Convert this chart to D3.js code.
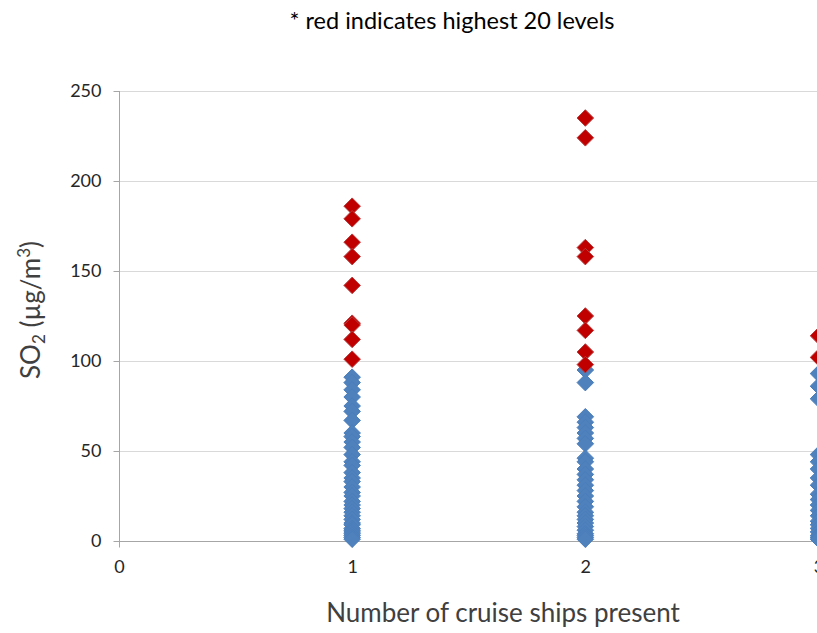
<!DOCTYPE html>
<html>
<head>
<meta charset="utf-8">
<script src="https://cdn.jsdelivr.net/npm/d3@7"></script>
<style>
  html, body { margin: 0; padding: 0; background: #fff; }
  svg { display: block; }
</style>
</head>
<body>
<script>
// ---- data ----
const title = "* red indicates highest 20 levels";
const xTicks = [0, 1, 2, 3];
const yTicks = [0, 50, 100, 150, 200, 250];

const blueShips1 = [91, 88, 84, 80, 75, 72, 67, 60, 58, 55, 52, 48, 44, 42, 38, 35, 33, 30, 27, 25, 22, 20, 18, 16, 14, 12, 10, 9, 7, 6, 5, 4, 3, 2, 1];
const blueShips2 = [95, 88, 69, 66, 63, 60, 57, 54, 46, 44, 40, 37, 34, 31, 28, 25, 22, 19, 16, 14, 12, 10, 8, 6, 4, 3, 2, 1];
const blueShips3 = [93, 86, 79, 48, 44, 40, 35, 31, 26, 23, 20, 17, 14, 11, 9, 7, 5, 3, 2, 1];

const redShips1 = [186, 179, 166, 158, 142, 121, 120, 112, 101];
const redShips2 = [235, 224, 163, 158, 125, 117, 105, 98];
const redShips3 = [114, 102];

const blueSeries = [
  ...blueShips1.map(v => ({ x: 1, y: v })),
  ...blueShips2.map(v => ({ x: 2, y: v })),
  ...blueShips3.map(v => ({ x: 3, y: v }))
];
const redSeries = [
  ...redShips1.map(v => ({ x: 1, y: v })),
  ...redShips2.map(v => ({ x: 2, y: v })),
  ...redShips3.map(v => ({ x: 3, y: v }))
];

// ---- layout ----
const W = 817, H = 633;
const svg = d3.select("body").append("svg").attr("width", W).attr("height", H);

const x = d3.scaleLinear().domain([0, 3]).range([119, 818.5]);
const y = d3.scaleLinear().domain([0, 250]).range([541, 91]);

const font = "Lato, 'Open Sans', sans-serif";

// gridlines
svg.append("g").selectAll("line").data(yTicks.filter(d => d > 0)).join("line")
  .attr("x1", x(0)).attr("x2", W)
  .attr("y1", d => y(d) + 0.5).attr("y2", d => y(d) + 0.5)
  .attr("stroke", "#D9D9D9").attr("stroke-width", 1);

// y axis
const yAxis = d3.axisLeft(y).tickValues(yTicks).tickFormat(d3.format("d")).tickSize(6).tickPadding(12);
const gy = svg.append("g").attr("transform", `translate(${x(0) + 0.5},0)`).call(yAxis);
gy.select(".domain").remove();
gy.append("line").attr("x1", 0).attr("x2", 0).attr("y1", y(250)).attr("y2", y(0) + 6).attr("stroke", "#A6A6A6");
gy.selectAll(".tick line").attr("stroke", "#A6A6A6");
gy.selectAll(".tick text").attr("font-family", font).attr("font-size", 18).attr("fill", "#262626");

// x axis
const xAxis = d3.axisBottom(x).tickValues(xTicks).tickFormat(d3.format("d")).tickSize(6).tickPadding(13);
const gx = svg.append("g").attr("transform", `translate(0,${y(0) + 0.5})`).call(xAxis);
gx.select(".domain").remove();
gx.append("line").attr("x1", x(0)).attr("x2", W).attr("y1", 0).attr("y2", 0).attr("stroke", "#A6A6A6");
gx.selectAll(".tick line").attr("stroke", "#A6A6A6");
gx.selectAll(".tick text").attr("font-family", font).attr("font-size", 18).attr("fill", "#262626");

// markers
const diamond = d3.symbol().type(d3.symbolDiamond2).size(175);
svg.append("g").selectAll("path").data(blueSeries).join("path")
  .attr("d", diamond)
  .attr("transform", d => `translate(${x(d.x)},${y(d.y)})`)
  .attr("fill", "#4F81BD").attr("stroke", "#4A7EBB").attr("stroke-width", 1);
svg.append("g").selectAll("path").data(redSeries).join("path")
  .attr("d", diamond)
  .attr("transform", d => `translate(${x(d.x)},${y(d.y)})`)
  .attr("fill", "#C00000").attr("stroke", "#B83C3C").attr("stroke-width", 1);

// title
svg.append("text").attr("x", 452).attr("y", 29).attr("text-anchor", "middle")
  .attr("font-family", font).attr("font-size", 23.5).attr("fill", "#000")
  .text(title);

// x title
svg.append("text").attr("x", 503).attr("y", 622).attr("text-anchor", "middle")
  .attr("font-family", font).attr("font-size", 26).attr("fill", "#404040")
  .text("Number of cruise ships present");

// y title
const yt = svg.append("text").attr("transform", "translate(40,310) rotate(-90)")
  .attr("text-anchor", "middle")
  .attr("font-family", font).attr("font-size", 26).attr("fill", "#404040");
yt.append("tspan").text("SO");
yt.append("tspan").attr("font-size", 17).attr("dy", 5).text("2");
yt.append("tspan").attr("dy", -5).text(" (µg/m");
yt.append("tspan").attr("font-size", 17).attr("dy", -10).text("3");
yt.append("tspan").attr("dy", 10).text(")");
</script>
</body>
</html>
